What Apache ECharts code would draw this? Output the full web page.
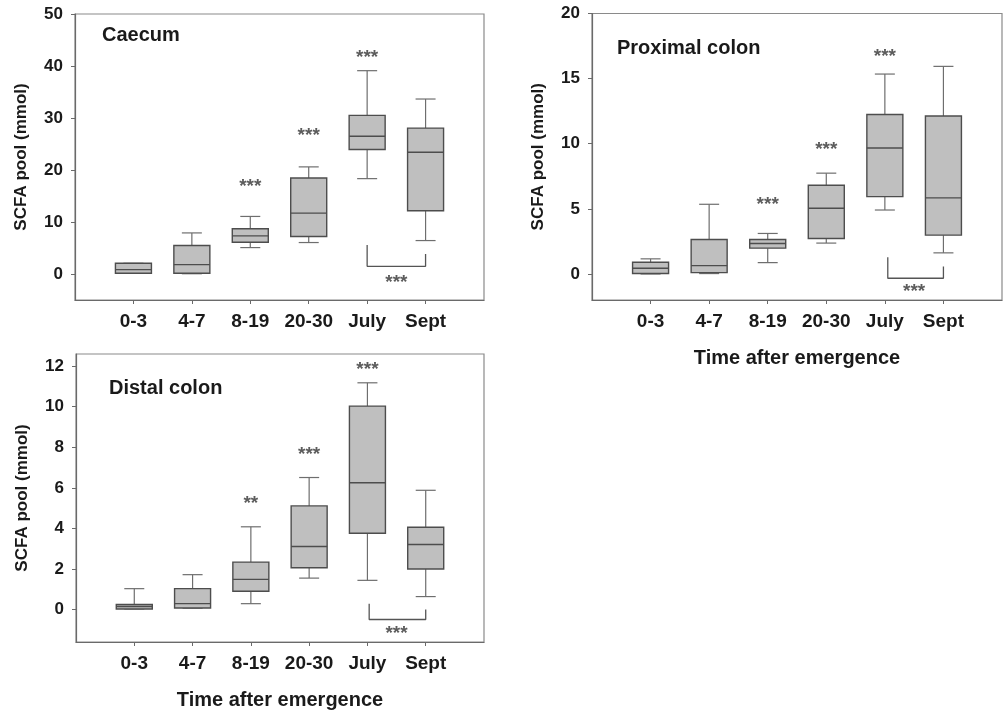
<!DOCTYPE html>
<html>
<head>
<meta charset="utf-8">
<script src="https://cdn.jsdelivr.net/npm/echarts@6/dist/echarts.min.js"></script>
<style>
html,body{margin:0;padding:0;background:#fff;}
#chart{width:1004px;height:713px;}
</style>
</head>
<body>
<div id="chart"></div>
<script>
// ---- data ----
const categories = ['0-3', '4-7', '8-19', '20-30', 'July', 'Sept'];
const yTicksCaecum = [0, 10, 20, 30, 40, 50];
const yTicksProximal = [0, 5, 10, 15, 20];
const yTicksDistal = [0, 2, 4, 6, 8, 10, 12];

// [min, Q1, median, Q3, max]
const caecumBoxes = [
  [0.13, 0.13, 0.84, 2.06, 2.06],
  [0.05, 0.13, 1.8, 5.47, 7.9],
  [5.08, 6.11, 7.34, 8.69, 11.07],
  [6.05, 7.2, 11.7, 18.47, 20.6],
  [18.34, 23.94, 26.5, 30.5, 39.1],
  [6.43, 12.16, 23.42, 28.06, 33.65]
];
const proximalBoxes = [
  [0.0, 0.03, 0.44, 0.9, 1.16],
  [0.03, 0.1, 0.64, 2.65, 5.35],
  [0.87, 1.98, 2.34, 2.65, 3.11],
  [2.37, 2.72, 5.04, 6.81, 7.74],
  [4.91, 5.94, 9.67, 12.24, 15.35],
  [1.62, 2.98, 5.84, 12.13, 15.94]
];
const distalBoxes = [
  [0.03, 0.03, 0.15, 0.25, 1.03],
  [0.07, 0.08, 0.29, 1.03, 1.72],
  [0.29, 0.9, 1.49, 2.34, 4.08],
  [1.55, 2.06, 3.11, 5.11, 6.51],
  [1.44, 3.76, 6.25, 10.03, 11.18],
  [0.64, 2.0, 3.21, 4.06, 5.88]
];

// significance marks: [x position (category number), y value, text]
const caecumStars = [[3, 17.8, '***'], [4, 27.5, '***'], [5, 42.5, '***'], [5.5, -0.64, '***']];
const proximalStars = [[3, 5.66, '***'], [4, 9.95, '***'], [5, 17.04, '***'], [5.5, -0.95, '***']];
const distalStars = [[3, 5.48, '**'], [4, 7.86, '***'], [5, 12.08, '***'], [5.5, -0.95, '***']];

// July vs Sept brackets: [x, y]
const caecumBracket = [[5, 5.6], [5, 1.48], [6, 1.48], [6, 3.86]];
const proximalBracket = [[5.05, 1.29], [5.05, -0.33], [6, -0.33], [6, 0.57]];
const distalBracket = [[5.03, 0.28], [5.03, -0.49], [6, -0.49], [6, 0.0]];

const panelTitles = ['Caecum', 'Proximal colon', 'Distal colon'];
const yName = 'SCFA pool (mmol)';
const xName = 'Time after emergence';

// ---- chart ----
const FONT = "'Liberation Sans', Arial, sans-serif";
const chart = echarts.init(document.getElementById('chart'), null, {renderer: 'canvas'});

const grids = [
  {left: 75, top: 14, width: 409, height: 286},
  {left: 592, top: 13.5, width: 410, height: 286.5},
  {left: 76, top: 354, width: 408, height: 288}
];
const yRanges = [[-5, 50, yTicksCaecum], [-2, 20, yTicksProximal], [-1.6, 12.6, yTicksDistal]];
const showXName = [false, true, true];
const boxesAll = [caecumBoxes, proximalBoxes, distalBoxes];
const starsAll = [caecumStars, proximalStars, distalStars];
const bracketsAll = [caecumBracket, proximalBracket, distalBracket];
const titleTops = [25, 38, 378];
const titleLefts = [102, 617, 109];

const catIdx = categories.map((c, i) => i + 1);

function renderBox(params, api) {
  const x = api.value(0);
  const pMin = api.coord([x, api.value(1)]);
  const pQ1 = api.coord([x, api.value(2)]);
  const pMed = api.coord([x, api.value(3)]);
  const pQ3 = api.coord([x, api.value(4)]);
  const pMax = api.coord([x, api.value(5)]);
  const cx = pMed[0];
  const hw = 18, cw = 10;
  const wStyle = {stroke: '#6e6e6e', lineWidth: 1.2, fill: null};
  const bStyle = {stroke: '#4d4d4d', lineWidth: 1.4, fill: null};
  return {
    type: 'group',
    children: [
      {type: 'line', shape: {x1: cx, y1: pQ3[1], x2: cx, y2: pMax[1]}, style: wStyle},
      {type: 'line', shape: {x1: cx, y1: pQ1[1], x2: cx, y2: pMin[1]}, style: wStyle},
      {type: 'line', shape: {x1: cx - cw, y1: pMax[1], x2: cx + cw, y2: pMax[1]}, style: wStyle},
      {type: 'line', shape: {x1: cx - cw, y1: pMin[1], x2: cx + cw, y2: pMin[1]}, style: wStyle},
      {type: 'rect', shape: {x: cx - hw, y: pQ3[1], width: hw * 2, height: pQ1[1] - pQ3[1]},
        style: {fill: '#bfbfbf', stroke: '#4d4d4d', lineWidth: 1.4}},
      {type: 'line', shape: {x1: cx - hw, y1: pMed[1], x2: cx + hw, y2: pMed[1]}, style: bStyle}
    ]
  };
}

const xAxes = [], yAxes = [], series = [], titles = [];
grids.forEach((g, k) => {
  xAxes.push({
    gridIndex: k, type: 'value', min: 0, max: 7, interval: 1,
    name: showXName[k] ? xName : '', nameLocation: 'middle', nameGap: 48,
    nameTextStyle: {fontFamily: FONT, fontWeight: 'bold', fontSize: 20, color: '#1a1a1a'},
    axisLine: {show: true, onZero: false, lineStyle: {color: '#6a6a6a', width: 1.2}},
    axisTick: {show: true, length: 4, lineStyle: {color: '#6a6a6a'}, customValues: catIdx},
    axisLabel: {
      customValues: catIdx, margin: 12,
      formatter: v => (v >= 1 && v <= categories.length && Number.isInteger(v)) ? categories[v - 1] : '',
      fontFamily: FONT, fontWeight: 'bold', fontSize: 19, color: '#1a1a1a'
    },
    splitLine: {show: false}
  });
  const yr = yRanges[k];
  yAxes.push({
    gridIndex: k, type: 'value', min: yr[0], max: yr[1],
    name: yName, nameLocation: 'middle', nameGap: 45, nameRotate: 90,
    nameTextStyle: {fontFamily: FONT, fontWeight: 'bold', fontSize: 17, color: '#1a1a1a'},
    axisLine: {show: true, onZero: false, lineStyle: {color: '#6a6a6a', width: 1.2}},
    axisTick: {show: true, length: 4, lineStyle: {color: '#6a6a6a'}, customValues: yr[2]},
    axisLabel: {customValues: yr[2], margin: 12, fontFamily: FONT, fontWeight: 'bold', fontSize: 17, color: '#1a1a1a'},
    splitLine: {show: false}
  });
  series.push({
    type: 'custom', xAxisIndex: k, yAxisIndex: k,
    renderItem: renderBox,
    encode: {x: 0, y: [1, 2, 3, 4, 5]},
    data: boxesAll[k].map((b, i) => [i + 1].concat(b)),
    silent: true, z: 3
  });
  series.push({
    type: 'scatter', xAxisIndex: k, yAxisIndex: k,
    symbolSize: 0.01,
    data: starsAll[k].map(s => ({value: [s[0], s[1]], label: {formatter: s[2]}})),
    label: {show: true, position: 'inside', offset: [0, 5], fontFamily: FONT, fontWeight: 'bold', fontSize: 19, color: '#333'},
    silent: true, z: 4
  });
  series.push({
    type: 'line', xAxisIndex: k, yAxisIndex: k,
    data: bracketsAll[k],
    symbol: 'none', lineStyle: {color: '#555', width: 1.3},
    silent: true, z: 4
  });
  titles.push({
    text: panelTitles[k], left: titleLefts[k], top: titleTops[k], padding: 0,
    textStyle: {fontFamily: FONT, fontWeight: 'bold', fontSize: 20, color: '#1a1a1a'}
  });
});

chart.setOption({
  backgroundColor: '#ffffff',
  animation: false,
  title: titles,
  grid: grids.map(g => Object.assign({show: true, borderColor: '#8a8a8a', borderWidth: 1.2, backgroundColor: 'transparent'}, g)),
  xAxis: xAxes,
  yAxis: yAxes,
  series: series
});
</script>
</body>
</html>
